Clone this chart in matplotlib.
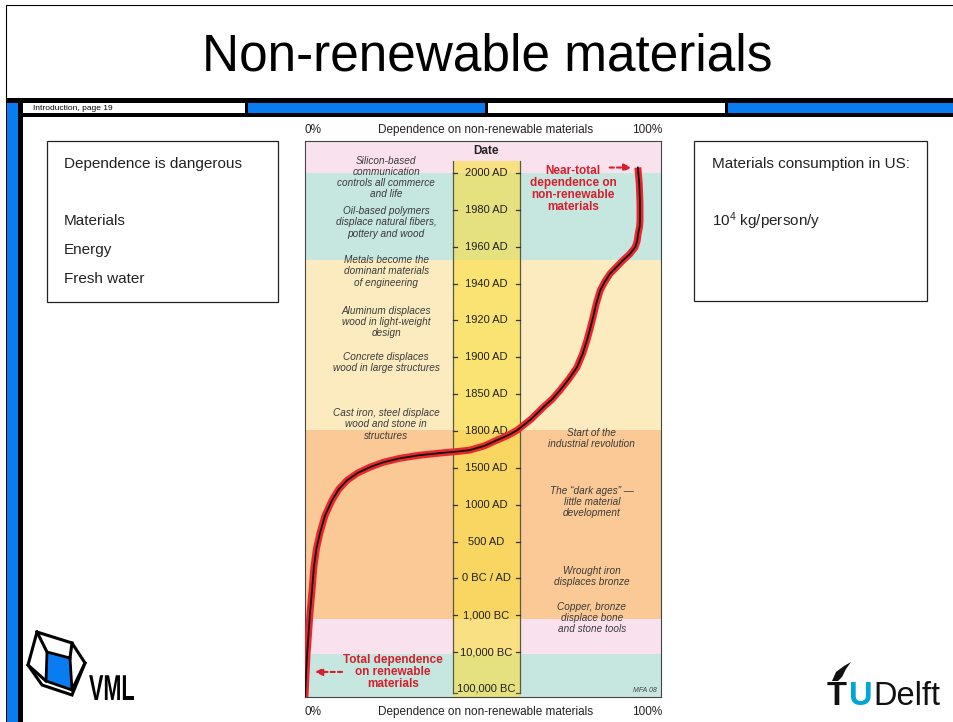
import matplotlib
matplotlib.use('Agg')
import matplotlib.pyplot as plt
from matplotlib.patches import Rectangle, Polygon, PathPatch
from matplotlib.textpath import TextPath
from matplotlib.font_manager import FontProperties
from matplotlib.transforms import Affine2D

plt.rcParams['font.family'] = ['Liberation Sans', 'DejaVu Sans']
plt.rcParams['mathtext.fontset'] = 'custom'
plt.rcParams['mathtext.rm'] = 'Liberation Sans'
plt.rcParams['mathtext.it'] = 'Liberation Sans:italic'

# date scale, bottom to top (equally spaced positions)
date_labels = ['100,000 BC', '10,000 BC', '1,000 BC', '0 BC / AD', '500 AD', '1000 AD',
               '1500 AD', '1800 AD', '1850 AD', '1900 AD', '1920 AD', '1940 AD',
               '1960 AD', '1980 AD', '2000 AD']

# coloured eras (edges in date-scale units) and their colours
era_edges = [-0.22, 0.95, 1.9, 7.02, 11.63, 14.01, 14.87]
era_colors = ['#c6e6e0', '#f9e2ee', '#fbc995', '#fdebc0', '#c6e6e0', '#f9e2ee']

# dependence on non-renewable materials (%) vs position on the date scale
dependence_pct = [0, 0.3, 0.6, 1.0, 1.4, 2.0, 2.5, 3.2, 4.2, 5.6, 7.6, 9.5, 11.8, 14.8,
                  18.3, 22.0, 26.7, 32.0, 37.9, 42.5, 46.3, 50.5, 53.9, 57.0, 59.6, 63.5,
                  66.9, 69.5, 71.6, 74.2, 76.4, 78.0, 79.2, 80.1, 80.9, 81.8, 82.9, 84.2,
                  85.7, 87.5, 89.3, 91.2, 92.7, 93.3, 93.6, 94.0, 94.1, 94.1, 93.9, 93.5]
date_pos = [-0.22, 0.4, 0.98, 1.5, 2.06, 2.7, 3.31, 3.8, 4.23, 4.7, 5.12, 5.42, 5.66, 5.86,
            6.02, 6.15, 6.26, 6.34, 6.40, 6.44, 6.48, 6.60, 6.75, 6.88, 7.02, 7.32,
            7.64, 7.87, 8.10, 8.42, 8.73, 9.10, 9.46, 9.78, 10.08, 10.45, 10.81, 11.05,
            11.27, 11.45, 11.63, 11.80, 11.98, 12.15, 12.36, 12.55, 12.71, 13.17, 13.7, 14.15]

left_notes = ['Silicon-based\ncommunication\ncontrols all commerce\nand life',
              'Oil-based polymers\ndisplace natural fibers,\npottery and wood',
              'Metals become the\ndominant materials\nof engineering',
              'Aluminum displaces\nwood in light-weight\ndesign',
              'Concrete displaces\nwood in large structures',
              'Cast iron, steel displace\nwood and stone in\nstructures']
left_notes_pos = [13.88, 12.66, 11.33, 9.95, 8.86, 7.18]
right_notes = ['Start of the\nindustrial revolution',
               'The \u201cdark ages\u201d \u2014\nlittle material\ndevelopment',
               'Wrought iron\ndisplaces bronze',
               'Copper, bronze\ndisplace bone\nand stone tools']
right_notes_pos = [6.80, 5.07, 3.06, 1.92]

red = '#d4202c'
blue = '#0a7cf2'
ink = '#222222'

fig = plt.figure(figsize=(9.54, 7.22), dpi=100)
bg = fig.add_axes([0, 0, 1, 1])
bg.set_xlim(0, 954)
bg.set_ylim(722, 0)
bg.axis('off')

# ---- slide frame ----
bg.plot([6, 6, 954], [99, 5, 5], color='k', lw=0.8)
bg.add_patch(Rectangle((6, 98), 948, 19, color='k', lw=0))
bg.add_patch(Rectangle((6, 98), 17, 624, color='k', lw=0))
bg.add_patch(Rectangle((7, 103), 11, 619, color=blue, lw=0))
bg.add_patch(Rectangle((23, 103), 222, 10, color='white', lw=0))
bg.add_patch(Rectangle((248, 103), 237, 10, color=blue, lw=0))
bg.add_patch(Rectangle((488, 103), 237, 10, color='white', lw=0))
bg.add_patch(Rectangle((728, 103), 226, 10, color=blue, lw=0))
bg.add_patch(Rectangle((23, 117), 931, 605, color='white', lw=0))
bg.text(33, 108.5, 'Introduction, page 19', fontsize=6, va='center', ha='left')

bg.text(487, 57, 'Non-renewable materials', fontsize=37, ha='center', va='center')

# ---- text boxes ----
bg.add_patch(Rectangle((47, 141), 231, 161, fill=False, ec=ink, lw=0.9))
bg.text(64, 164, 'Dependence is dangerous', fontsize=11, va='center', color=ink)
for i, w in enumerate(['Materials', 'Energy', 'Fresh water']):
    bg.text(64, 221 + 29 * i, w, fontsize=11, va='center', color=ink)

bg.add_patch(Rectangle((694, 141), 233, 160, fill=False, ec=ink, lw=0.9))
bg.text(712, 164, 'Materials consumption in US:', fontsize=11, va='center', color=ink)
bg.text(712, 221, r'10$^{4}$ kg/person/y', fontsize=11, va='center', color=ink)

# axis captions above / below the chart
for yy in [130, 712]:
    bg.text(313, yy, '0%', fontsize=8.5, ha='center', va='center', color=ink)
    bg.text(486, yy, 'Dependence on non-renewable materials', fontsize=8.5, ha='center',
            va='center', color=ink)
    bg.text(647, yy, '100%', fontsize=8.5, ha='center', va='center', color=ink)

# ---- VML logo ----
bg.add_patch(Polygon([(37, 632), (72, 643), (85, 663), (72, 695), (42, 685), (28, 665)],
                     closed=True, fill=False, ec='k', lw=2.2))
bg.add_patch(Polygon([(47, 652), (70, 658), (72, 690), (46, 681)], closed=True,
                     fc=blue, ec='k', lw=2.0))
bg.plot([37, 47], [632, 652], color='k', lw=2.2)
bg.plot([72, 70], [643, 658], color='k', lw=2.2)
bg.plot([28, 46], [665, 681], color='k', lw=2.2)
bg.plot([85, 72], [663, 690], color='k', lw=2.2)
tp = TextPath((0, 0), 'VML', size=36, prop=FontProperties(family='Liberation Sans', weight='bold'))
bg.add_patch(PathPatch(tp, transform=Affine2D().scale(0.6, -1.0).translate(89, 700) + bg.transData,
                       fc='k', ec='none'))

# ---- TU Delft logo ----
bg.text(827, 705, 'T', fontsize=23.5, fontweight='bold', color='#111111', va='baseline')
bg.text(849, 705, 'U', fontsize=23.5, fontweight='bold', color='#00a6d6', va='baseline')
bg.text(873, 705, 'Delft', fontsize=23.5, color='#111111', va='baseline')
bg.add_patch(Polygon([(832, 681), (836, 672), (844, 666), (851, 662), (846, 669), (842, 677),
                      (838, 681)], closed=True, fc='#111111', ec='none'))

# ---- the chart ----
ax = fig.add_axes([305 / 954, (722 - 697) / 722, 356 / 954, 556 / 722])
ax.set_xlim(0, 100)
ax.set_ylim(era_edges[0], era_edges[-1])
for lo, hi, c in zip(era_edges[:-1], era_edges[1:], era_colors):
    ax.axhspan(lo, hi, color=c, lw=0)

col_l, col_r, col_top = 41.6, 60.4, 14.34
ax.add_patch(Rectangle((col_l, era_edges[0]), col_r - col_l, col_top - era_edges[0],
                       fc='#f9df42', alpha=0.62, lw=0))
ax.plot([col_l, col_l], [-0.1, col_top], color='#5a5a40', lw=0.9)
ax.plot([col_r, col_r], [-0.1, col_top], color='#5a5a40', lw=0.9)
ax.plot([col_l, col_l + 1.2], [-0.1, -0.1], color='#5a5a40', lw=0.9)
ax.plot([col_r - 1.2, col_r], [-0.1, -0.1], color='#5a5a40', lw=0.9)
for i, lab in enumerate(date_labels):
    if i > 0:
        ax.plot([col_l, col_l + 1.2], [i, i], color='#333333', lw=0.9)
        ax.plot([col_r - 1.2, col_r], [i, i], color='#333333', lw=0.9)
    ax.text((col_l + col_r) / 2, i, lab, fontsize=8, ha='center', va='center', color=ink)
ax.text(50.8, 14.6, 'Date', fontsize=8.5, fontweight='bold', ha='center', va='center', color=ink)

ax.plot(dependence_pct, date_pos, color='#e8262c', lw=5, solid_capstyle='butt',
        solid_joinstyle='round', zorder=5)
ax.plot(dependence_pct, date_pos, color='#111111', lw=1.3, solid_joinstyle='round', zorder=6)

for txt, pos in zip(left_notes, left_notes_pos):
    ax.text(22.8, pos, txt, fontsize=7.2, style='italic', ha='center', va='center',
            color='#3a3a3a', linespacing=1.15)
for txt, pos in zip(right_notes, right_notes_pos):
    ax.text(80.6, pos, txt, fontsize=7.2, style='italic', ha='center', va='center',
            color='#3a3a3a', linespacing=1.15)

ax.text(75.3, 13.58, 'Near-total\ndependence on\nnon-renewable\nmaterials', fontsize=8.5,
        fontweight='bold', color=red, ha='center', va='center', linespacing=1.0)
ax.annotate('', xy=(92.5, 14.15), xytext=(84.8, 14.15),
            arrowprops=dict(arrowstyle='-|>', color=red, lw=1.5, ls=(0, (2, 1.5)),
                            mutation_scale=11))
ax.text(24.7, 0.47, 'Total dependence\non renewable\nmaterials', fontsize=8.5,
        fontweight='bold', color=red, ha='center', va='center', linespacing=1.0)
ax.annotate('', xy=(2.0, 0.46), xytext=(11.2, 0.46),
            arrowprops=dict(arrowstyle='-|>', color=red, lw=1.5, ls=(0, (2, 1.5)),
                            mutation_scale=11))
ax.text(95.5, -0.05, 'MFA 08', fontsize=5, style='italic', ha='center', va='center', color='#444444')

ax.set_xticks([])
ax.set_yticks([])
for s in ax.spines.values():
    s.set_color('#444444')
    s.set_linewidth(0.8)

fig.savefig('out.png', dpi=100)
